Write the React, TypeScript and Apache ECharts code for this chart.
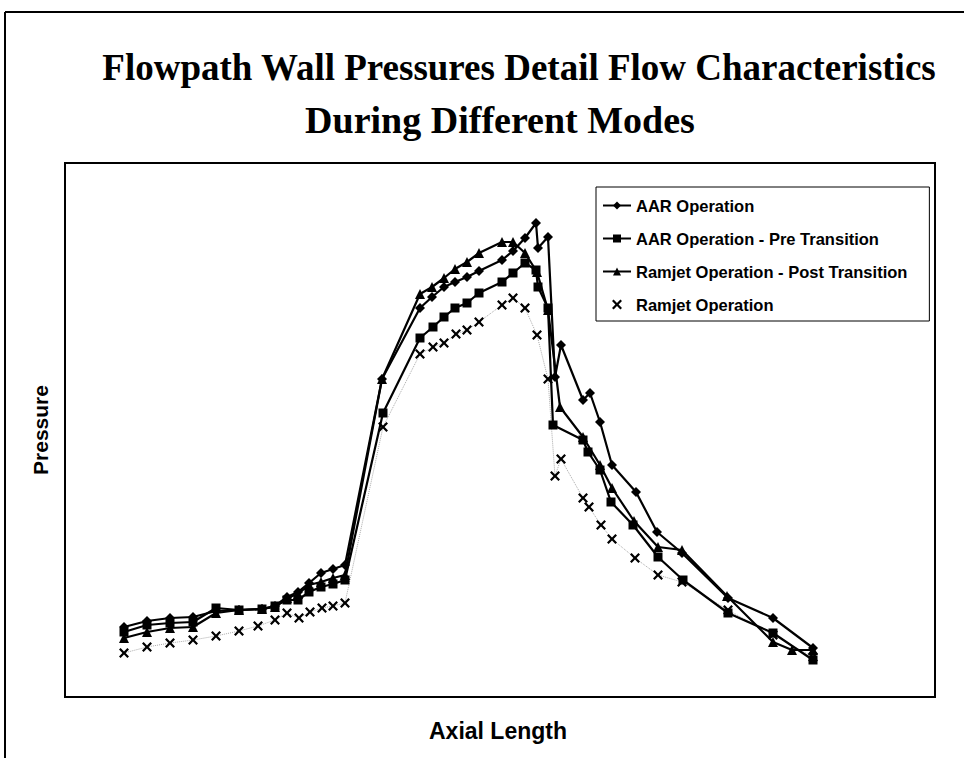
import React, { useEffect, useRef } from "react";
import * as echarts from "echarts";

// Axial stations / pressures (arbitrary units)
const aarX = [5.9, 8.2, 10.5, 12.8, 15.1, 17.4, 19.7, 21.0, 22.2, 23.3, 24.4, 25.6, 26.8, 28.0, 31.7, 35.5, 36.7, 37.9, 39.0, 40.2, 41.4, 43.7, 44.8, 46.0, 47.1, 47.3, 48.3, 49.0, 49.6, 51.8, 52.5, 53.5, 54.7, 57.1, 59.2, 61.7, 66.3, 70.8, 74.8];
const aarY = [7.0, 7.6, 7.9, 8.0, 8.6, 8.7, 8.8, 9.1, 10.0, 10.5, 11.4, 12.4, 12.8, 13.2, 31.8, 38.9, 40.0, 41.0, 41.5, 42.0, 42.6, 43.7, 44.6, 45.9, 47.4, 44.9, 46.0, 32.0, 35.2, 29.7, 30.4, 27.5, 23.2, 20.5, 16.5, 14.4, 9.9, 7.9, 4.9];

const preX = [5.9, 8.2, 10.5, 12.8, 15.1, 17.4, 19.7, 21.0, 22.2, 23.3, 24.4, 25.6, 26.8, 28.0, 31.8, 35.5, 36.8, 37.9, 39.0, 40.2, 41.4, 43.7, 44.8, 46.0, 47.1, 47.3, 48.3, 48.8, 51.8, 52.3, 53.5, 54.6, 56.8, 59.3, 61.8, 66.3, 70.8, 74.8];
const preY = [6.5, 7.2, 7.4, 7.5, 8.9, 8.7, 8.8, 9.1, 9.7, 9.7, 10.5, 11.0, 11.3, 11.7, 28.4, 35.9, 37.0, 38.0, 38.9, 39.4, 40.4, 41.5, 42.4, 43.4, 42.7, 41.0, 38.9, 27.2, 25.7, 24.5, 22.7, 19.5, 17.2, 14.0, 11.7, 8.4, 6.4, 3.7];

const postX = [5.9, 8.2, 10.5, 12.8, 15.1, 17.4, 19.7, 21.0, 22.2, 23.3, 24.4, 25.6, 26.8, 28.0, 31.7, 35.5, 36.7, 37.9, 39.0, 40.2, 41.4, 43.7, 44.8, 46.0, 47.2, 48.3, 49.5, 51.8, 53.5, 54.7, 56.9, 59.3, 61.7, 66.2, 70.8, 72.7, 74.8];
const postY = [5.9, 6.5, 6.9, 7.0, 8.4, 8.7, 8.8, 9.0, 9.9, 10.3, 11.2, 11.5, 11.9, 12.2, 31.8, 40.3, 41.0, 41.9, 42.8, 43.5, 44.4, 45.5, 45.5, 44.4, 42.5, 38.7, 29.0, 26.0, 23.2, 20.9, 17.6, 15.0, 14.7, 10.1, 5.5, 4.7, 4.7];

const ramX = [5.9, 8.2, 10.5, 12.8, 15.1, 17.4, 19.3, 21.0, 22.2, 23.4, 24.5, 25.7, 26.8, 28.0, 31.8, 35.5, 36.8, 37.9, 39.1, 40.2, 41.4, 43.7, 44.8, 46.0, 47.2, 48.3, 49.0, 49.6, 51.8, 52.4, 53.6, 54.7, 57.0, 59.3, 61.7, 66.3, 70.8, 74.8];
const ramY = [4.4, 5.0, 5.4, 5.7, 6.1, 6.6, 7.1, 7.7, 8.4, 7.9, 8.5, 8.9, 9.1, 9.4, 27.0, 34.3, 35.0, 35.4, 36.3, 36.7, 37.5, 39.2, 39.9, 38.9, 36.2, 31.8, 22.1, 23.8, 19.9, 19.0, 17.2, 15.8, 13.9, 12.2, 11.5, 8.7, 6.2, 4.0];

const seriesNames = [
  "AAR Operation",
  "AAR Operation - Pre Transition",
  "Ramjet Operation - Post Transition",
  "Ramjet Operation",
];
const titleLines = ["Flowpath Wall Pressures Detail Flow Characteristics", "During Different Modes"];
const xName = "Axial Length";
const yName = "Pressure";

const crossPath =
  "path://M0,1.6L1.6,0L5,3.4L8.4,0L10,1.6L6.6,5L10,8.4L8.4,10L5,6.6L1.6,10L0,8.4L3.4,5Z";

const zip = (xs: number[], ys: number[]) => xs.map((x, i) => [x, ys[i]]);

const SANS = '"Liberation Sans", Arial, Helvetica, sans-serif';
const SERIF = '"Liberation Serif", "Times New Roman", serif';

export default function App() {
  const ref = useRef<HTMLDivElement>(null);
  useEffect(() => {
    if (!ref.current) return;
    const chart = echarts.init(ref.current, undefined, { renderer: "svg" });
    const solid = (name: string, symbol: string, size: number, xs: number[], ys: number[]) => ({
      name,
      type: "line",
      data: zip(xs, ys),
      symbol,
      symbolSize: size,
      showAllSymbol: true,
      lineStyle: { color: "#000", width: 2.2 },
      itemStyle: { color: "#000" },
      z: 3,
    });
    chart.setOption({
      animation: false,
      backgroundColor: "#fff",
      grid: {
        left: 65,
        top: 163,
        width: 870,
        height: 534,
        show: true,
        borderColor: "#000",
        borderWidth: 2,
        backgroundColor: "#fff",
      },
      xAxis: {
        type: "value",
        min: 0,
        max: 87,
        axisLine: { show: false },
        axisTick: { show: false },
        axisLabel: { show: false },
        splitLine: { show: false },
      },
      yAxis: {
        type: "value",
        min: 0,
        max: 53.4,
        axisLine: { show: false },
        axisTick: { show: false },
        axisLabel: { show: false },
        splitLine: { show: false },
      },
      legend: {
        left: 596,
        top: 187,
        orient: "vertical",
        padding: [10, 22, 8, 6],
        itemWidth: 28,
        itemHeight: 10,
        itemGap: 16,
        borderColor: "#000",
        borderWidth: 1,
        backgroundColor: "#fff",
        textStyle: { fontFamily: SANS, fontWeight: "bold", fontSize: 16.5, color: "#000", lineHeight: 16 },
        data: [
          { name: seriesNames[0] },
          { name: seriesNames[1] },
          { name: seriesNames[2] },
          { name: seriesNames[3], icon: crossPath },
        ],
      },
      series: [
        solid(seriesNames[0], "diamond", 10, aarX, aarY),
        solid(seriesNames[1], "rect", 9, preX, preY),
        solid(seriesNames[2], "triangle", 10, postX, postY),
        {
          name: seriesNames[3],
          type: "line",
          data: zip(ramX, ramY),
          symbol: crossPath,
          symbolSize: 10,
          showAllSymbol: true,
          lineStyle: { color: "#aaa", width: 1, type: "dotted" },
          itemStyle: { color: "#000" },
          z: 2,
        },
      ],
      graphic: [
        { type: "line", shape: { x1: 5, y1: 12, x2: 964, y2: 12 }, style: { stroke: "#000", lineWidth: 2 } },
        { type: "line", shape: { x1: 5, y1: 12, x2: 5, y2: 758 }, style: { stroke: "#000", lineWidth: 2 } },
        {
          type: "text",
          x: 519,
          y: 67,
          style: { text: titleLines[0], align: "center", verticalAlign: "middle", fontFamily: SERIF, fontWeight: "bold", fontSize: 37, fill: "#000" },
        },
        {
          type: "text",
          x: 500,
          y: 120,
          style: { text: titleLines[1], align: "center", verticalAlign: "middle", fontFamily: SERIF, fontWeight: "bold", fontSize: 38, fill: "#000" },
        },
        {
          type: "text",
          x: 40,
          y: 430,
          rotation: Math.PI / 2,
          style: { text: yName, align: "center", verticalAlign: "middle", fontFamily: SANS, fontWeight: "bold", fontSize: 21, fill: "#000" },
        },
        {
          type: "text",
          x: 498,
          y: 731,
          style: { text: xName, align: "center", verticalAlign: "middle", fontFamily: SANS, fontWeight: "bold", fontSize: 23, fill: "#000" },
        },
      ],
    });
    return () => chart.dispose();
  }, []);
  return (
    <div
      ref={ref}
      style={{ position: "absolute", left: 0, top: 0, width: 964, height: 758, background: "#fff" }}
    />
  );
}
